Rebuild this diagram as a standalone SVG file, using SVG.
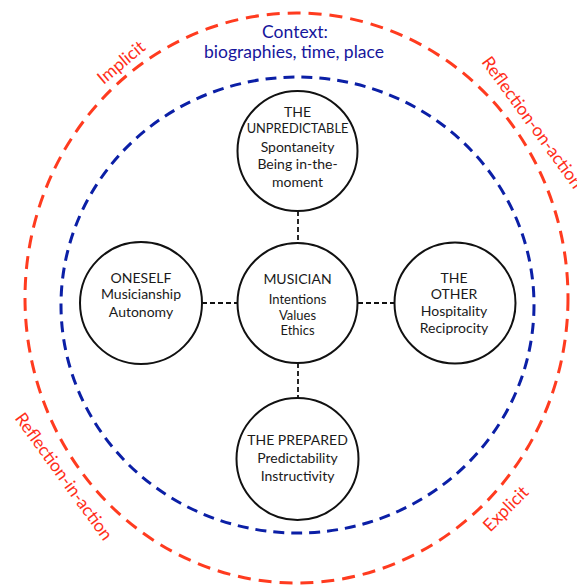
<svg xmlns="http://www.w3.org/2000/svg" width="577" height="587" viewBox="0 0 577 587">
  <style>
    .ring-red { fill: none; stroke: #ff3b1f; stroke-width: 3; stroke-dasharray: 13 8; }
    .ring-blue { fill: none; stroke: #0b1fa6; stroke-width: 3; stroke-dasharray: 11 7; }
    .node circle { fill: #ffffff; stroke: #111111; stroke-width: 2; }
    .node text { font-family: Lato, "Liberation Sans", sans-serif; font-size: 14px; fill: #1a1a1a; text-anchor: middle; }
    .node text.tight { font-size: 13px; }
    .conn line { stroke: #111111; stroke-width: 1.8; stroke-dasharray: 5 3; }
    .lbl-red { font-family: Lato, "Liberation Sans", sans-serif; font-size: 17.5px; fill: #ff2e1a; }
    .lbl-blue { font-family: Lato, "Liberation Sans", sans-serif; font-size: 17.5px; fill: #16169c; text-anchor: middle; }
  </style>
  <rect width="577" height="587" fill="#ffffff"/>
  <g id="rings">
    <ellipse class="ring-red" cx="296.5" cy="298" rx="271.5" ry="285"/>
    <ellipse class="ring-blue" cx="297.5" cy="305" rx="236.5" ry="228"/>
  </g>
  <g id="context-label">
    <text class="lbl-blue" x="295" y="38">Context:</text>
    <text class="lbl-blue" x="294" y="58">biographies, time, place</text>
  </g>
  <g id="ring-labels">
    <text class="lbl-red" text-anchor="middle" transform="translate(125,67) rotate(-40)">Implicit</text>
    <text class="lbl-red" text-anchor="start" transform="translate(481,62) rotate(54)">Reflection-on-action</text>
    <text class="lbl-red" text-anchor="middle" transform="translate(59,480) rotate(54)">Reflection-in-action</text>
    <text class="lbl-red" text-anchor="middle" transform="translate(510,513) rotate(-45)">Explicit</text>
  </g>
  <g id="connectors" class="conn">
    <line x1="298" y1="211" x2="298" y2="243"/>
    <line x1="298" y1="363" x2="298" y2="398"/>
    <line x1="202" y1="303" x2="237" y2="303"/>
    <line x1="358" y1="303" x2="394" y2="303"/>
  </g>
  <g id="node-unpredictable" class="node">
    <circle cx="297.5" cy="151" r="60"/>
    <text x="297.5" y="117">THE</text>
    <text x="297.5" y="133" style="font-size:12.8px">UNPREDICTABLE</text>
    <text x="297.5" y="152">Spontaneity</text>
    <text x="297.5" y="169">Being in-the-</text>
    <text x="297.5" y="187">moment</text>
  </g>
  <g id="node-musician" class="node">
    <circle cx="297.5" cy="303" r="60"/>
    <text x="297.5" y="284">MUSICIAN</text>
    <text class="tight" x="297.5" y="304">Intentions</text>
    <text class="tight" x="297.5" y="319.5">Values</text>
    <text class="tight" x="297.5" y="335">Ethics</text>
  </g>
  <g id="node-oneself" class="node">
    <circle cx="141" cy="303" r="61"/>
    <text x="141" y="283">ONESELF</text>
    <text x="141" y="299">Musicianship</text>
    <text x="141" y="316.5">Autonomy</text>
  </g>
  <g id="node-other" class="node">
    <circle cx="455" cy="303" r="60.5"/>
    <text x="454" y="283">THE</text>
    <text x="454" y="299">OTHER</text>
    <text x="454" y="316">Hospitality</text>
    <text x="454" y="333">Reciprocity</text>
  </g>
  <g id="node-prepared" class="node">
    <circle cx="297.5" cy="459" r="61"/>
    <text x="297.5" y="445">THE PREPARED</text>
    <text x="297.5" y="463">Predictability</text>
    <text x="297.5" y="481">Instructivity</text>
  </g>
</svg>
